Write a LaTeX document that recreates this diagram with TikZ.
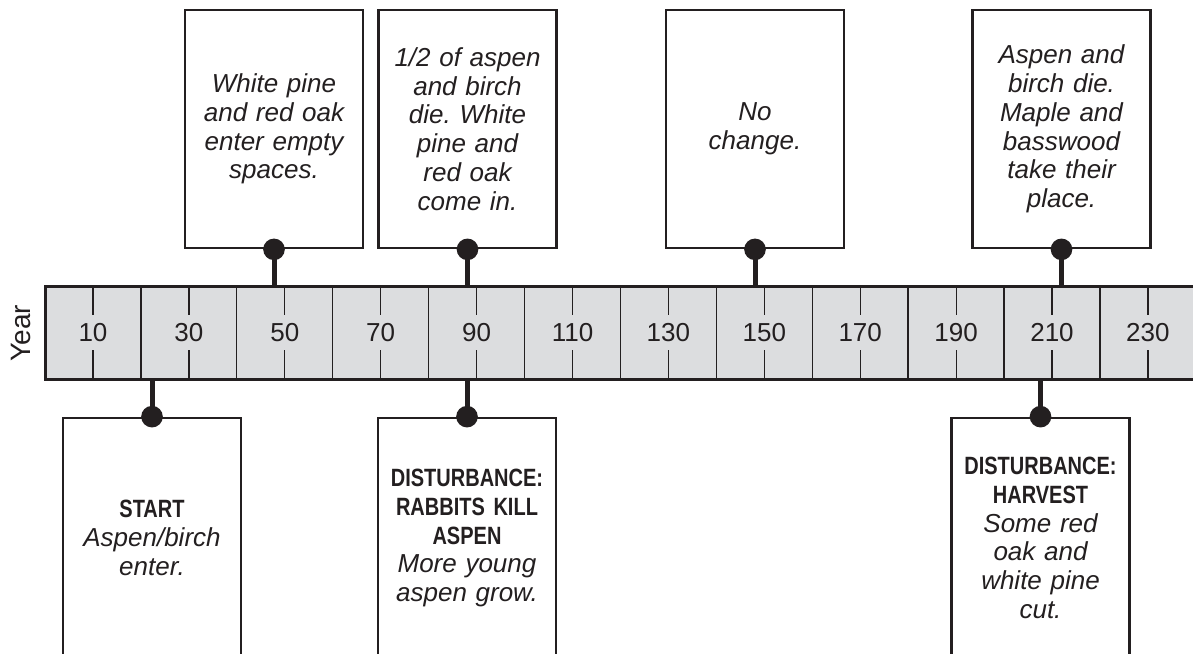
\documentclass[tikz,border=0pt]{standalone}
\usepackage{fontspec}
\setmainfont{Liberation Sans}
\newfontfamily\headfont{Liberation Sans}[FakeStretch=0.8]
\definecolor{bargray}{RGB}{220,221,223}
\definecolor{ink}{RGB}{35,31,32}
\newcommand\hd[1]{{\headfont\bfseries\upshape\fontsize{25}{28.7}\selectfont #1}}
\frenchspacing

\begin{document}
\begin{tikzpicture}[x=1pt, y=-1pt, color=ink,
    card/.style={draw=ink, line width=2.7pt, fill=white, minimum width=178pt, minimum height=#1,
      text width=170pt, inner sep=4pt, align=center, font=\fontsize{26}{28.7}\selectfont\itshape},
    card/.default=238pt,
    stem/.style={line width=5pt},
    pin/.style={fill=ink}]
  \clip (0,0) rectangle (1193,653);
  \coordinate (bartop) at (0,286);
  \coordinate (barbot) at (0,379);
  \fill[bargray] (45,286) rectangle (1210,379);
  \foreach \i in {1,...,11}
    \draw[line width=1.3pt] ({45+95.9*\i},286) -- ({45+95.9*\i},379);
  \foreach \n [count=\k from 0] in {10,30,...,230} {
    \draw[line width=1.2pt] ({93+95.9*\k},286) -- ++(0,29);
    \draw[line width=1.2pt] ({93+95.9*\k},379) -- ++(0,-29);
    \node[font=\fontsize{26}{30}\selectfont] (yr\n) at ({93+95.9*\k},333) {\n};
  }
  \draw[line width=3pt] (1210,286) -- (45,286) -- (45,379) -- (1210,379);
  \node[rotate=90, font=\fontsize{28}{30}\selectfont] (year) at (21,333) {Year};

  \node[card] (pine) at (274,129) {White pine\\and red oak\\enter empty\\spaces.};
  \node[card] (half) at (467.5,129) {1/2 of aspen\\and birch\\die. White\\pine and\\red oak\\come in.};
  \node[card] (nochange) at (755,129) {No\\change.};
  \node[card] (maple) at (1061.5,129) {Aspen and\\birch die.\\Maple and\\basswood\\take their\\place.};

  \node[card=240pt] (start) at (152,538) {\hd{START}\\Aspen/birch\\enter.};
  \node[card=240pt] (rabbits) at (467,538) {\hd{DISTURBANCE:}\\\hd{RABBITS KILL}\\\hd{ASPEN}\\More young\\aspen grow.};
  \node[card=240pt] (harvest) at (1040.5,538) {\hd{DISTURBANCE:}\\\hd{HARVEST}\\Some red\\oak and\\white pine\\cut.};

  \foreach \c in {pine,half,nochange,maple} {
    \draw[stem] (\c.south) -- (\c.south |- bartop);
    \fill[pin] (\c.south) circle (10.8pt);
  }
  \foreach \c in {start,rabbits,harvest} {
    \draw[stem] (\c.north) -- (\c.north |- barbot);
    \fill[pin] (\c.north) circle (10.8pt);
  }
\end{tikzpicture}
\end{document}
